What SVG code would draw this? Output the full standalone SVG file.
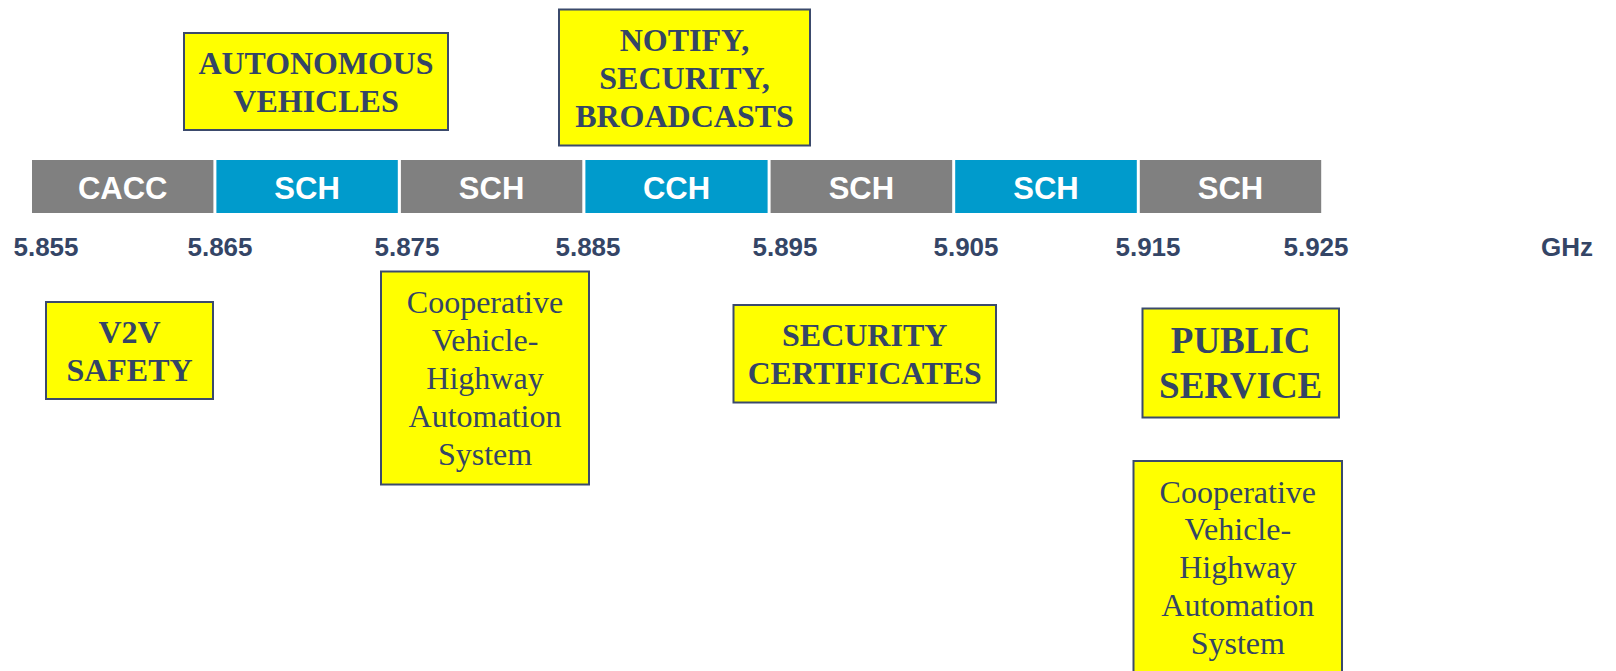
<svg xmlns="http://www.w3.org/2000/svg" width="1616" height="671" viewBox="0 0 1616 671">
  <style>
    .band-gray { fill: #808080; }
    .band-blue { fill: #009BCC; }
    .band-label { font-family: "Liberation Sans", Arial, sans-serif; font-weight: bold; font-size: 31px; fill: #FFFFFF; text-anchor: middle; }
    .freq { font-family: "Liberation Sans", Arial, sans-serif; font-weight: bold; font-size: 26px; fill: #344566; text-anchor: middle; }
    .note { fill: #FFFF00; stroke: #3B4A6C; stroke-width: 2; }
    .note-bold { font-family: "Liberation Serif", "Times New Roman", serif; font-weight: bold; font-size: 32px; fill: #344566; text-anchor: middle; }
    .note-big { font-family: "Liberation Serif", "Times New Roman", serif; font-weight: bold; font-size: 37px; fill: #344566; text-anchor: middle; }
    .note-plain { font-family: "Liberation Serif", "Times New Roman", serif; font-size: 32px; fill: #344566; text-anchor: middle; }
  </style>
  <rect width="1616" height="671" fill="#FFFFFF"/>

  <!-- 10 MHz channel bands along the 5.9 GHz spectrum -->
  <g id="band-cacc">
    <rect class="band-gray" x="32" y="160" width="181.4" height="53"/>
    <text class="band-label" x="122.7" y="199">CACC</text>
  </g>
  <g id="band-sch-1">
    <rect class="band-blue" x="216.4" y="160" width="181.4" height="53"/>
    <text class="band-label" x="307.1" y="199">SCH</text>
  </g>
  <g id="band-sch-2">
    <rect class="band-gray" x="400.9" y="160" width="181.4" height="53"/>
    <text class="band-label" x="491.6" y="199">SCH</text>
  </g>
  <g id="band-cch">
    <rect class="band-blue" x="585.4" y="160" width="182.2" height="53"/>
    <text class="band-label" x="676.5" y="199">CCH</text>
  </g>
  <g id="band-sch-3">
    <rect class="band-gray" x="770.6" y="160" width="181.6" height="53"/>
    <text class="band-label" x="861.4" y="199">SCH</text>
  </g>
  <g id="band-sch-4">
    <rect class="band-blue" x="955.2" y="160" width="181.6" height="53"/>
    <text class="band-label" x="1046" y="199">SCH</text>
  </g>
  <g id="band-sch-5">
    <rect class="band-gray" x="1139.8" y="160" width="181.4" height="53"/>
    <text class="band-label" x="1230.5" y="199">SCH</text>
  </g>

  <!-- frequency scale -->
  <g id="frequency-axis">
    <text class="freq" x="46" y="256">5.855</text>
    <text class="freq" x="220" y="256">5.865</text>
    <text class="freq" x="407" y="256">5.875</text>
    <text class="freq" x="588" y="256">5.885</text>
    <text class="freq" x="785" y="256">5.895</text>
    <text class="freq" x="966" y="256">5.905</text>
    <text class="freq" x="1148" y="256">5.915</text>
    <text class="freq" x="1316" y="256">5.925</text>
    <text class="freq" x="1567" y="256">GHz</text>
  </g>

  <!-- application call-outs -->
  <g id="note-autonomous">
    <rect class="note" x="184" y="33" width="264" height="97"/>
    <text class="note-bold" x="316" y="74" textLength="235" lengthAdjust="spacingAndGlyphs">AUTONOMOUS</text>
    <text class="note-bold" x="316" y="112">VEHICLES</text>
  </g>
  <g id="note-notify">
    <rect class="note" x="559" y="9.5" width="251" height="136"/>
    <text class="note-bold" x="684.5" y="51">NOTIFY,</text>
    <text class="note-bold" x="684.5" y="89">SECURITY,</text>
    <text class="note-bold" x="684.5" y="127">BROADCASTS</text>
  </g>
  <g id="note-v2v">
    <rect class="note" x="46" y="302" width="167" height="97"/>
    <text class="note-bold" x="129.5" y="343">V2V</text>
    <text class="note-bold" x="129.5" y="381">SAFETY</text>
  </g>
  <g id="note-cvhas-1">
    <rect class="note" x="381" y="271.5" width="208" height="213"/>
    <text class="note-plain" x="485" y="312.7">Cooperative</text>
    <text class="note-plain" x="485" y="350.7">Vehicle-</text>
    <text class="note-plain" x="485" y="388.7">Highway</text>
    <text class="note-plain" x="485" y="426.7">Automation</text>
    <text class="note-plain" x="485" y="464.7">System</text>
  </g>
  <g id="note-security">
    <rect class="note" x="733.5" y="305" width="262.5" height="97.5"/>
    <text class="note-bold" x="864.7" y="346">SECURITY</text>
    <text class="note-bold" x="864.7" y="383.5" textLength="234" lengthAdjust="spacingAndGlyphs">CERTIFICATES</text>
  </g>
  <g id="note-public">
    <rect class="note" x="1142.5" y="308.5" width="196.5" height="109"/>
    <text class="note-big" x="1240.7" y="353">PUBLIC</text>
    <text class="note-big" x="1240.7" y="398">SERVICE</text>
  </g>
  <g id="note-cvhas-2">
    <rect class="note" x="1133.5" y="461" width="208.5" height="230"/>
    <text class="note-plain" x="1237.8" y="502.7">Cooperative</text>
    <text class="note-plain" x="1237.8" y="540.4">Vehicle-</text>
    <text class="note-plain" x="1237.8" y="578.1">Highway</text>
    <text class="note-plain" x="1237.8" y="615.8">Automation</text>
    <text class="note-plain" x="1237.8" y="653.5">System</text>
  </g>

  <!-- no connectors in this chart -->
  <g id="connectors"/>
</svg>
